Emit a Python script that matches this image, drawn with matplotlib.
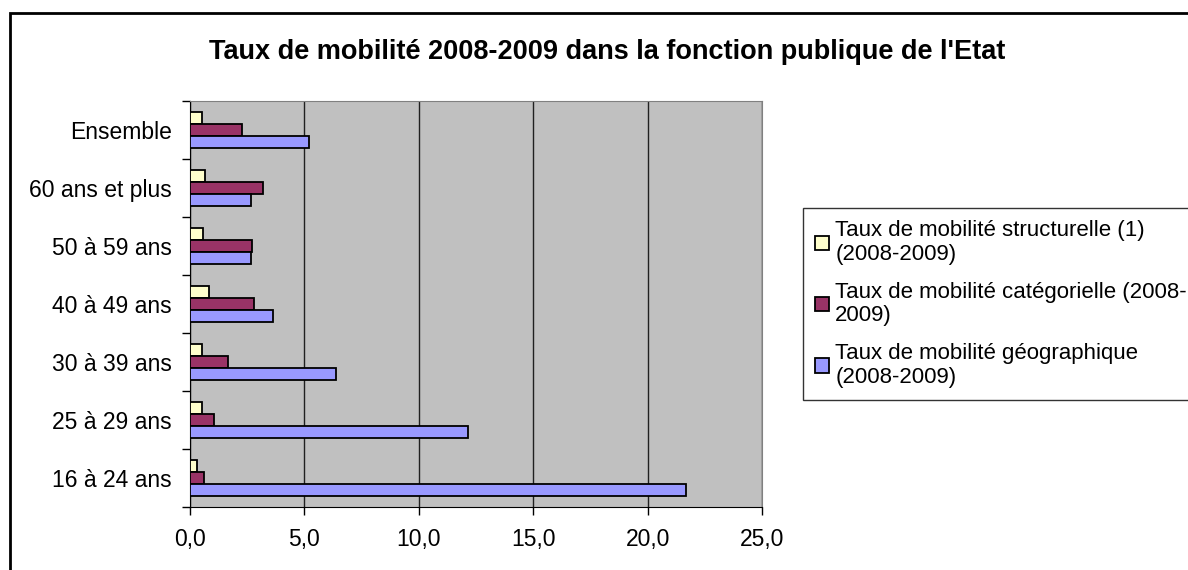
import matplotlib.pyplot as plt
from matplotlib.patches import Rectangle
import numpy as np

categories = ["16 à 24 ans", "25 à 29 ans", "30 à 39 ans", "40 à 49 ans",
              "50 à 59 ans", "60 ans et plus", "Ensemble"]
structurelle = [0.29, 0.53, 0.53, 0.83, 0.58, 0.67, 0.53]
categorielle = [0.60, 1.05, 1.67, 2.81, 2.73, 3.19, 2.27]
geographique = [21.7, 12.13, 6.36, 3.64, 2.65, 2.65, 5.22]
series_labels = ["Taux de mobilité structurelle (1)\n(2008-2009)",
                 "Taux de mobilité catégorielle (2008-\n2009)",
                 "Taux de mobilité géographique\n(2008-2009)"]
xticks = [0, 5, 10, 15, 20, 25]

plt.rcParams['font.family'] = ['Liberation Sans', 'DejaVu Sans']

fig = plt.figure(figsize=(11.88, 5.70), dpi=100)
ax = fig.add_axes([190 / 1188, 1 - 507 / 570, 572 / 1188, 406 / 570])
ax.set_facecolor('#C0C0C0')

y = np.arange(len(categories))
h = 0.21
kw = dict(height=h, edgecolor='black', linewidth=1.3, zorder=3)
b1 = ax.barh(y + h, structurelle, color='#FFFFCC', label=series_labels[0], **kw)
b2 = ax.barh(y, categorielle, color='#993366', label=series_labels[1], **kw)
b3 = ax.barh(y - h, geographique, color='#9999FF', label=series_labels[2], **kw)

ax.set_xlim(0, 25)
ax.set_ylim(-0.5, len(categories) - 0.5)
ax.set_xticks(xticks)
ax.set_xticklabels([f"{v:.1f}".replace('.', ',') for v in xticks], fontsize=16.5)
ax.set_yticks(y)
ax.set_yticklabels(categories, fontsize=16.5)
ax.tick_params(axis='y', which='major', length=0, pad=13)
ax.set_yticks(np.arange(len(categories) + 1) - 0.5, minor=True)
ax.tick_params(axis='y', which='minor', length=6, width=1, direction='out')
ax.tick_params(axis='x', length=6, width=1, direction='out', pad=9)
ax.grid(axis='x', color='#202020', linewidth=1, zorder=1)
for s in ['top', 'right']:
    ax.spines[s].set_color('#808080')
for s in ['left', 'bottom']:
    ax.spines[s].set_color('black')

fig.text(607 / 1188, 1 - 52 / 570, "Taux de mobilité 2008-2009 dans la fonction publique de l'Etat",
         ha='center', va='center', fontsize=19.5, fontweight='bold')

leg = fig.legend(handles=[b1, b2, b3], loc='upper left',
                 bbox_to_anchor=(803 / 1188, 1 - 208 / 570),
                 fontsize=16, frameon=True, fancybox=False,
                 edgecolor='black', handlelength=0.6, handleheight=0.6,
                 handletextpad=0.3, labelspacing=0.75, borderpad=0.55,
                 borderaxespad=0)
leg.get_frame().set_linewidth(1)
for t in leg.get_texts():
    t.set_linespacing(1.17)

fig.patches.append(Rectangle((10 / 1188, -0.1), 1.2, 1 - 13 / 570 + 0.1,
                             transform=fig.transFigure, fill=False,
                             edgecolor='black', linewidth=2))

fig.savefig('out.png', dpi=100)
